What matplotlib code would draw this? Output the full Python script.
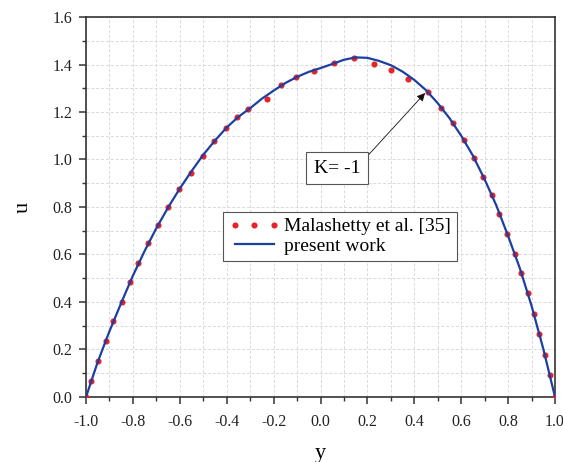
import matplotlib
matplotlib.use("Agg")
import matplotlib.pyplot as plt
from matplotlib.ticker import MultipleLocator

plt.rcParams["font.family"] = ["Liberation Serif", "DejaVu Serif"]

# present work (solid blue)
y_present = [-1.0, -0.95, -0.9, -0.85, -0.8, -0.75, -0.7, -0.65, -0.6, -0.55, -0.5,
             -0.45, -0.4, -0.35, -0.3, -0.25, -0.2, -0.15, -0.1, -0.05, 0.0, 0.05,
             0.1, 0.15, 0.2, 0.25, 0.3, 0.35, 0.4, 0.45, 0.5, 0.55, 0.6, 0.65,
             0.7, 0.75, 0.8, 0.85, 0.9, 0.95, 1.0]
u_present = [0.0, 0.148, 0.277, 0.396, 0.511, 0.615, 0.711, 0.798, 0.878, 0.951, 1.020,
             1.080, 1.135, 1.180, 1.216, 1.256, 1.290, 1.322, 1.348, 1.369, 1.385, 1.402,
             1.420, 1.430, 1.428, 1.415, 1.397, 1.370, 1.335, 1.292, 1.237, 1.174, 1.100,
             1.016, 0.916, 0.806, 0.678, 0.542, 0.384, 0.203, 0.0]

# Malashetty et al. [35] (red dots)
y_mala = [-1.0, -0.979, -0.948, -0.916, -0.884, -0.848, -0.812, -0.777, -0.737, -0.692,
          -0.649, -0.602, -0.554, -0.503, -0.455, -0.405, -0.355, -0.308, -0.230,
          -0.170, -0.104, -0.028, 0.058, 0.141, 0.228, 0.299, 0.375, 0.460, 0.513,
          0.564, 0.612, 0.656, 0.694, 0.730, 0.763, 0.797, 0.829, 0.857, 0.885,
          0.910, 0.933, 0.957, 0.979, 1.0]
u_mala = [0.0, 0.067, 0.153, 0.236, 0.319, 0.401, 0.483, 0.566, 0.650, 0.724,
          0.799, 0.875, 0.944, 1.016, 1.076, 1.132, 1.178, 1.211, 1.256,
          1.314, 1.346, 1.373, 1.408, 1.429, 1.403, 1.375, 1.340, 1.283, 1.218,
          1.155, 1.082, 1.005, 0.928, 0.851, 0.771, 0.686, 0.602, 0.521, 0.437,
          0.349, 0.265, 0.177, 0.093, 0.0]

RED = "#e8222a"
BLUE = "#1d3f9e"
SPINE = "#333333"

fig = plt.figure(figsize=(5.63, 4.62), dpi=100)
ax = fig.add_axes([0.1528, 0.1407, 0.8330, 0.8225])

ax.plot(y_mala, u_mala, linestyle="none", marker="o", markersize=4.4,
        color=RED, markeredgewidth=0, label="Malashetty et al. [35]", zorder=3)
ax.plot(y_present, u_present, color=BLUE, linewidth=1.6,
        label="present work", zorder=4)

ax.set_xlim(-1.0, 1.0)
ax.set_ylim(0.0, 1.6)
ax.xaxis.set_major_locator(MultipleLocator(0.2))
ax.xaxis.set_minor_locator(MultipleLocator(0.1))
ax.yaxis.set_major_locator(MultipleLocator(0.2))
ax.yaxis.set_minor_locator(MultipleLocator(0.1))
ax.xaxis.set_major_formatter(lambda v, p: f"{v:.1f}")
ax.yaxis.set_major_formatter(lambda v, p: f"{v:.1f}")

ax.grid(True, which="both", linestyle=(0, (3, 2)), color="#d9d9d9", linewidth=0.7)
ax.set_axisbelow(True)
ax.tick_params(which="major", direction="out", length=5, width=1.1, color=SPINE,
               labelsize=11.5, labelcolor="#222222", pad=5)
ax.tick_params(axis="x", which="major", pad=7)
ax.tick_params(which="minor", direction="out", length=2.6, width=1.0, color=SPINE)
for s in ax.spines.values():
    s.set_color(SPINE)
    s.set_linewidth(1.2)

ax.set_xlabel("y", fontsize=16, labelpad=10)
ax.set_ylabel("u", fontsize=16, labelpad=14)

leg = ax.legend(loc="upper left", bbox_to_anchor=(0.292, 0.487), numpoints=3,
                fontsize=14, frameon=True, fancybox=False, edgecolor="#555555",
                framealpha=1, handlelength=2.6, handletextpad=0.25,
                borderpad=0.3, labelspacing=0.1, borderaxespad=0)
leg.get_frame().set_linewidth(0.8)

ax.annotate("K= -1", xy=(0.446, 1.28), xytext=(0.07, 0.964),
            fontsize=14, ha="center", va="center",
            bbox=dict(boxstyle="square,pad=0.4", facecolor="white",
                      edgecolor="#555555", linewidth=0.8),
            arrowprops=dict(arrowstyle="-|>", color="#111111", linewidth=0.6,
                            mutation_scale=12, shrinkA=0, shrinkB=0,
                            relpos=(1.0, 0.74)))

fig.savefig("out.png", dpi=100)
